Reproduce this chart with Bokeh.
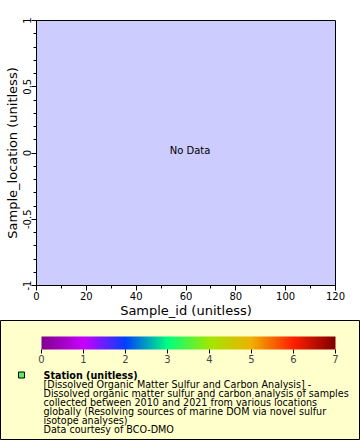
from bokeh.plotting import figure
from bokeh.layouts import column, row
from bokeh.models import (Range1d, SingleIntervalTicker, CustomJSTickFormatter, ColorBar,
                          LinearColorMapper, FixedTicker, Label, ColumnDataSource)
from bokeh.transform import linear_cmap
from bokeh.embed import file_html
from bokeh.resources import INLINE
from bokeh.core.properties import value

# ---- data (the dataset returned no rows) ----
sample_id = []
sample_location = []
station = []

x_range_limits = [0, 120]
y_range_limits = [-1, 1]
x_tick_interval = 20
y_tick_interval = 0.5
station_range = [0, 7]
station_ticks = [0, 1, 2, 3, 4, 5, 6, 7]

x_label = "Sample_id (unitless)"
y_label = "Sample_location (unitless)"
no_data_text = "No Data"
legend_title = "Station (unitless)"
legend_lines = [
    "[Dissolved Organic Matter Sulfur and Carbon Analysis] -",
    "Dissolved organic matter sulfur and carbon analysis of samples",
    "collected between 2010 and 2021 from various locations",
    "globally (Resolving sources of marine DOM via novel sulfur",
    "isotope analyses)",
    "Data courtesy of BCO-DMO",
]

# ---- palette (rainbow-like) ----
anchors = [(128, 0, 144), (200, 0, 255), (0, 64, 255), (0, 255, 128),
           (160, 232, 0), (240, 176, 0), (255, 32, 0), (128, 0, 0)]
palette = []
nseg = len(anchors) - 1
per = 32
for i in range(nseg):
    a, b = anchors[i], anchors[i + 1]
    for k in range(per):
        t = k / per
        c = tuple(int(round(a[j] + (b[j] - a[j]) * t)) for j in range(3))
        palette.append("#%02x%02x%02x" % c)
palette.append("#%02x%02x%02x" % anchors[-1])

FONT = "DejaVu Sans"

src = ColumnDataSource(data=dict(sample_id=sample_id, sample_location=sample_location, station=station))

p = figure(width=360, height=320,
           x_range=Range1d(*x_range_limits), y_range=Range1d(*y_range_limits),
           output_backend="svg", toolbar_location=None,
           min_border_left=36, min_border_right=25, min_border_top=20, min_border_bottom=35,
           background_fill_color="#ccccff", border_fill_color="white",
           outline_line_color="black", outline_line_width=1)
p.grid.visible = False
p.scatter(x="sample_id", y="sample_location", source=src, size=6, marker="square",
          fill_color=linear_cmap("station", palette, station_range[0], station_range[1]),
          line_color="black")

p.xaxis.ticker = SingleIntervalTicker(interval=x_tick_interval, num_minor_ticks=2)
p.yaxis.ticker = SingleIntervalTicker(interval=y_tick_interval, num_minor_ticks=5)
p.yaxis.formatter = CustomJSTickFormatter(code="return String(tick);")
p.xaxis.axis_label = x_label
p.yaxis.axis_label = y_label
p.yaxis.major_label_orientation = "vertical"
for ax in (p.xaxis[0], p.yaxis[0]):
    ax.axis_label_text_font = FONT
    ax.axis_label_text_font_size = "13px"
    ax.axis_label_text_font_style = "normal"
    ax.axis_label_text_color = "black"
    ax.axis_label_standoff = 0
    ax.major_label_text_font = FONT
    ax.major_label_text_font_size = "10px"
    ax.major_label_text_color = "black"
    ax.major_label_standoff = 1
    ax.major_tick_in = 0
    ax.major_tick_out = 5
    ax.minor_tick_in = 0
    ax.minor_tick_out = 3
    ax.axis_line_color = "black"
    ax.major_tick_line_color = "black"
    ax.minor_tick_line_color = "black"

p.add_layout(Label(x=sum(x_range_limits) / 2, y=sum(y_range_limits) / 2, text=no_data_text,
                   text_align="center", text_baseline="middle", x_offset=4, y_offset=3,
                   text_font=FONT, text_font_size="10px", text_color="black"))

# ---- legend panel ----
lg = figure(width=360, height=120, x_range=Range1d(0, 360), y_range=Range1d(440, 320),
            output_backend="svg", toolbar_location=None, min_border=0,
            x_axis_type=None, y_axis_type=None,
            background_fill_color="#ffffcc", border_fill_color="white",
            outline_line_color="black", outline_line_width=1)
lg.grid.visible = False

mapper = LinearColorMapper(palette=palette, low=station_range[0], high=station_range[1])
cb = ColorBar(color_mapper=mapper, orientation="horizontal", location=(41, 75),
              width=294, height=13, padding=0, ticker=FixedTicker(ticks=station_ticks),
              major_tick_in=0, major_tick_out=4, major_tick_line_color="black",
              minor_tick_line_color=None, bar_line_color=None,
              background_fill_alpha=0, border_line_color=None,
              major_label_text_font=FONT, major_label_text_font_size="10px",
              label_standoff=1)
lg.add_layout(cb, "center")

lg.scatter(x=[21], y=[374.5], marker="square", size=6, fill_color="#55ee55", line_color="black")

line_h = 9
title_y = 375
lg.text(x=[43], y=[title_y], text=[legend_title], text_font=value(FONT), text_font_size="9.6px",
        text_font_style="bold", text_baseline="alphabetic", text_color="black")
lg.text(x=[43] * len(legend_lines), y=[title_y + line_h * (i + 1) for i in range(len(legend_lines))],
        text=legend_lines, text_font=value(FONT), text_font_size="9.6px",
        text_baseline="alphabetic", text_color="black")

layout = column(p, row(lg))
open("out.html", "w").write(file_html(layout, INLINE))
